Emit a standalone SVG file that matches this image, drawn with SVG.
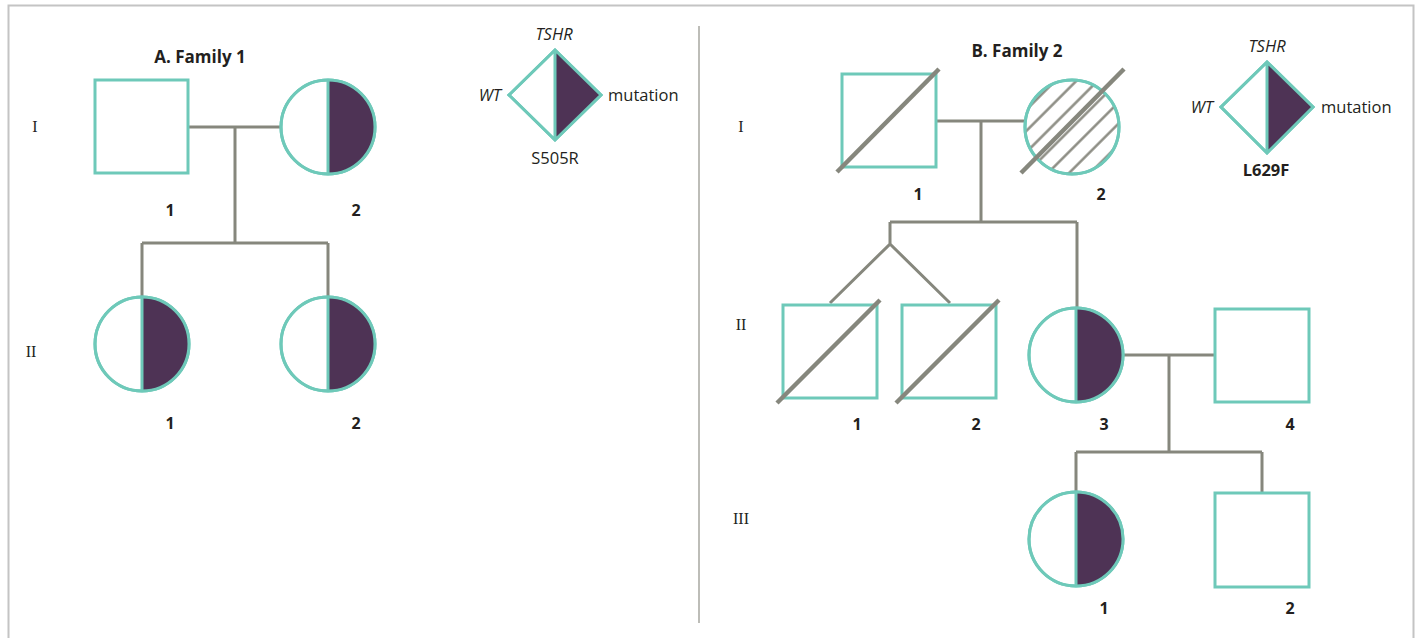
<svg xmlns="http://www.w3.org/2000/svg" width="1416" height="638" viewBox="0 0 1416 638">
<style>
.t{stroke:#6ec9b9;stroke-width:3;fill:#fff}
.tl{stroke:#6ec9b9;stroke-width:3;fill:none}
.p{fill:#4e3355}
.c{stroke:#86877d;stroke-width:3;fill:none}
.s{stroke:#86877d;stroke-width:4.5;fill:none}
.h{stroke:#86877d;stroke-width:2.4}
.lab{font-family:"Open Sans","Liberation Sans",sans-serif;font-size:16px;font-weight:bold;fill:#231f20;text-anchor:middle}
.ttl{font-size:17px}
.leg{font-family:"Open Sans","Liberation Sans",sans-serif;font-size:16.5px;fill:#231f20}
.gen{font-family:"Liberation Serif",serif;font-size:16px;fill:#231f20;text-anchor:middle}
</style>
<defs>
<pattern id="hatch" patternUnits="userSpaceOnUse" width="15" height="15" patternTransform="rotate(-45 1072 127)">
<line x1="0" y1="7.5" x2="15" y2="7.5" class="h"/>
</pattern>
<clipPath id="cc"><circle cx="1072" cy="127" r="47"/></clipPath>
</defs>
<rect x="0" y="0" width="1416" height="638" fill="#fff"/>
<path d="M8.5,640 V5.5 H1413.5 V640" fill="none" stroke="#c4c4c4" stroke-width="2"/>
<line x1="699" y1="26" x2="699" y2="623" stroke="#bdbdb8" stroke-width="2"/>

<g id="connectors">
<path class="c" d="M188,127 H281 M235,127 V243 M142,243 H328 M142,243 V297 M328,243 V297"/>
<path class="c" d="M936,121 H1025 M981,121 V222 M890,222 H1077 M890,222 V244 L830,303 M890,244 L950,303 M1077,222 V308"/>
<path class="c" d="M1123,355 H1215 M1169,355 V452 M1076,452 H1262 M1076,452 V492 M1262,452 V493"/>
</g>

<text class="lab ttl" x="200" y="63">A. Family 1</text>
<text class="lab ttl" x="1017" y="57">B. Family 2</text>
<text class="gen" x="35" y="132">I</text>
<text class="gen" x="31" y="357">II</text>
<text class="gen" x="741" y="132">I</text>
<text class="gen" x="741" y="330">II</text>
<text class="gen" x="741" y="524">III</text>

<g id="legend1">
<path class="t" d="M555,50 L601,95 L555,140 L509,95 Z"/>
<path class="p" d="M555,50 L601,95 L555,140 Z"/>
<path class="tl" d="M555,50 L601,95 L555,140 L509,95 Z M555,50 V140"/>
<text class="leg" x="554" y="40" text-anchor="middle" font-style="italic">TSHR</text>
<text class="leg" x="501" y="101" text-anchor="end" font-style="italic">WT</text>
<text class="leg" x="608" y="101">mutation</text>
<text class="leg" x="555" y="164" text-anchor="middle">S505R</text>
</g>

<g id="f1-I-1"><rect class="t" x="95" y="80" width="93" height="93"/><text class="lab" x="170" y="216">1</text></g>
<g id="f1-I-2"><circle class="t" cx="328" cy="127" r="47"/><path class="p" d="M328,80 A47,47 0 0 1 328,174 Z"/><circle class="tl" cx="328" cy="127" r="47"/><line class="tl" x1="328" y1="80" x2="328" y2="174"/><text class="lab" x="356" y="216">2</text></g>
<g id="f1-II-1"><circle class="t" cx="142" cy="344" r="47"/><path class="p" d="M142,297 A47,47 0 0 1 142,391 Z"/><circle class="tl" cx="142" cy="344" r="47"/><line class="tl" x1="142" y1="297" x2="142" y2="391"/><text class="lab" x="170" y="429">1</text></g>
<g id="f1-II-2"><circle class="t" cx="328" cy="344" r="47"/><path class="p" d="M328,297 A47,47 0 0 1 328,391 Z"/><circle class="tl" cx="328" cy="344" r="47"/><line class="tl" x1="328" y1="297" x2="328" y2="391"/><text class="lab" x="356" y="429">2</text></g>

<g id="legend2">
<path class="t" d="M1267,62 L1313,107 L1267,153 L1221,107 Z"/>
<path class="p" d="M1267,62 L1313,107 L1267,153 Z"/>
<path class="tl" d="M1267,62 L1313,107 L1267,153 L1221,107 Z M1267,62 V153"/>
<text class="leg" x="1267" y="52" text-anchor="middle" font-style="italic">TSHR</text>
<text class="leg" x="1213" y="113" text-anchor="end" font-style="italic">WT</text>
<text class="leg" x="1321" y="113">mutation</text>
<text class="leg" x="1266" y="176" text-anchor="middle" font-weight="bold">L629F</text>
</g>

<g id="f2-I-1"><rect class="t" x="842" y="74" width="94" height="93"/><line class="s" x1="837" y1="172" x2="939" y2="69"/><text class="lab" x="918" y="200">1</text></g>
<g id="f2-I-2"><circle class="t" cx="1072" cy="127" r="47"/><rect x="1020" y="75" width="104" height="104" fill="url(#hatch)" clip-path="url(#cc)"/><circle class="tl" cx="1072" cy="127" r="47"/><line class="s" x1="1021" y1="173" x2="1124" y2="69"/><text class="lab" x="1101" y="200">2</text></g>
<g id="f2-II-1"><rect class="t" x="783" y="305" width="94" height="93"/><line class="s" x1="777" y1="403" x2="880" y2="300"/><text class="lab" x="857" y="430">1</text></g>
<g id="f2-II-2"><rect class="t" x="902" y="305" width="94" height="93"/><line class="s" x1="896" y1="403" x2="999" y2="300"/><text class="lab" x="976" y="430">2</text></g>
<g id="f2-II-3"><circle class="t" cx="1076" cy="355" r="47"/><path class="p" d="M1076,308 A47,47 0 0 1 1076,402 Z"/><circle class="tl" cx="1076" cy="355" r="47"/><line class="tl" x1="1076" y1="308" x2="1076" y2="402"/><text class="lab" x="1104" y="430">3</text></g>
<g id="f2-II-4"><rect class="t" x="1215" y="309" width="94" height="93"/><text class="lab" x="1290" y="430">4</text></g>
<g id="f2-III-1"><circle class="t" cx="1076" cy="539" r="47"/><path class="p" d="M1076,492 A47,47 0 0 1 1076,586 Z"/><circle class="tl" cx="1076" cy="539" r="47"/><line class="tl" x1="1076" y1="492" x2="1076" y2="586"/><text class="lab" x="1104" y="614">1</text></g>
<g id="f2-III-2"><rect class="t" x="1215" y="493" width="94" height="94"/><text class="lab" x="1290" y="614">2</text></g>
</svg>
